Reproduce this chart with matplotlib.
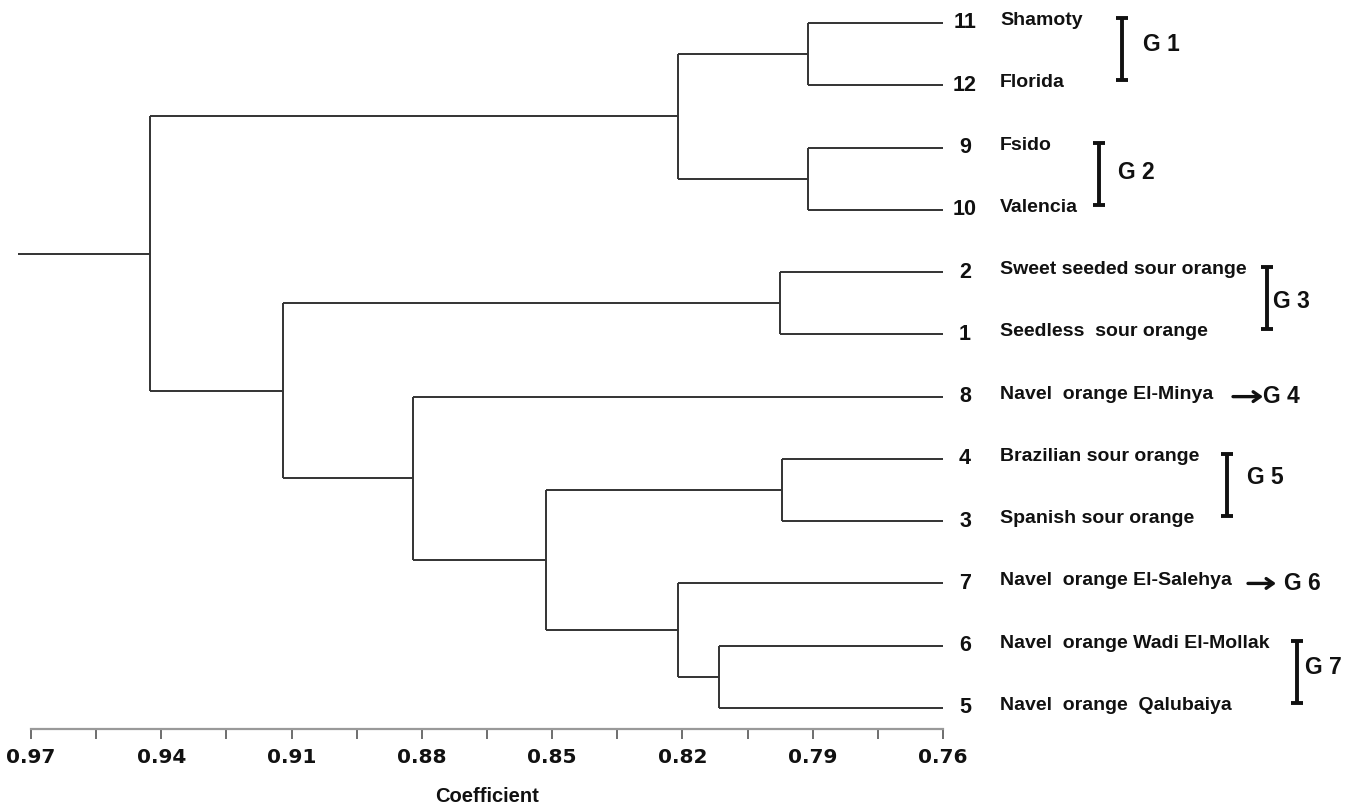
import matplotlib
matplotlib.use("Agg")
import matplotlib.pyplot as plt
from matplotlib import transforms

# ---------------- data ----------------
leaf_ids = [11, 12, 9, 10, 2, 1, 8, 4, 3, 7, 6, 5]
leaf_names = ["Shamoty", "Florida", "Fsido", "Valencia",
              "Sweet seeded sour orange", "Seedless  sour orange",
              "Navel  orange El-Minya", "Brazilian sour orange",
              "Spanish sour orange", "Navel  orange El-Salehya",
              "Navel  orange Wadi El-Mollak", "Navel  orange  Qalubaiya"]

# merges: (name, left child, right child, coefficient)
merge_names = ["A", "B", "C", "D", "E", "F", "G", "H", "I", "J", "K"]
merge_left = ["11", "9", "2", "4", "6", "7", "A", "D", "8", "C", "G"]
merge_right = ["12", "10", "1", "3", "5", "E", "B", "F", "H", "I", "J"]
merge_height = [0.791, 0.791, 0.7975, 0.797, 0.8115, 0.821, 0.821,
                0.8515, 0.882, 0.912, 0.9425]
root_tail = 0.973
leaf_level = 0.76

tick_values = [0.97, 0.955, 0.94, 0.925, 0.91, 0.895, 0.88, 0.865, 0.85,
               0.835, 0.82, 0.805, 0.79, 0.775, 0.76]
tick_labels = ["0.97", "", "0.94", "", "0.91", "", "0.88", "", "0.85", "",
               "0.82", "", "0.79", "", "0.76"]

group_labels = ["G 1", "G 2", "G 3", "G 4", "G 5", "G 6", "G 7"]
group_first = [11, 9, 2, 8, 4, 7, 6]
group_last = [12, 10, 1, 8, 3, 7, 5]

# ---------------- figure ----------------
W, H = 1346, 805
fig = plt.figure(figsize=(W / 100, H / 100), dpi=100)
fig.patch.set_facecolor("white")

ax_left, ax_right, ax_bottom_px = 31, 943, 729
n = len(leaf_ids)
y0_px, step_px = 23, 62.27
ax = fig.add_axes([ax_left / W, (H - ax_bottom_px) / H,
                   (ax_right - ax_left) / W, ax_bottom_px / H])
ax.set_xlim(0.97, 0.76)
ax.set_ylim(n - 1 + (ax_bottom_px - (y0_px + step_px * (n - 1))) / step_px,
            -y0_px / step_px)

pax = fig.add_axes([0, 0, 1, 1], zorder=-1)
pax.set_xlim(0, W)
pax.set_ylim(H, 0)
pax.axis("off")
blend = transforms.blended_transform_factory(pax.transData, ax.transData)

line_kw = dict(color="#333333", lw=1.4, solid_capstyle="butt", clip_on=False)

# node positions
pos_y = {str(l): i for i, l in enumerate(leaf_ids)}
pos_x = {str(l): leaf_level for l in leaf_ids}
for name, a, b, h in zip(merge_names, merge_left, merge_right, merge_height):
    for c in (a, b):
        ax.plot([pos_x[c], h], [pos_y[c], pos_y[c]], **line_kw)
    ax.plot([h, h], [pos_y[a], pos_y[b]], **line_kw)
    pos_x[name] = h
    pos_y[name] = (pos_y[a] + pos_y[b]) / 2
root = merge_names[-1]
ax.plot([root_tail, pos_x[root]], [pos_y[root], pos_y[root]], **line_kw)

# axis styling
for s in ["top", "right", "left"]:
    ax.spines[s].set_visible(False)
ax.spines["bottom"].set_color("#999999")
ax.spines["bottom"].set_linewidth(1.6)
ax.set_yticks([])
ax.set_xticks(tick_values)
ax.set_xticklabels(tick_labels, fontfamily="DejaVu Sans", fontweight="bold",
                   fontsize=14.5, color="#111111")
ax.tick_params(axis="x", direction="out", length=7, width=1.2,
               colors="#555555", labelcolor="#111111", pad=7)
ax.set_xlabel("Coefficient", fontfamily="Liberation Sans", fontweight="bold",
              fontsize=14.5, labelpad=14, color="#111111")
ax.patch.set_alpha(0)

# leaf labels
for i, (lid, nm) in enumerate(zip(leaf_ids, leaf_names)):
    ax.text(965, i, str(lid), transform=blend, ha="center", va="center",
            fontfamily="Liberation Sans", fontweight="bold", fontsize=15.5,
            color="#111111")
    ax.text(1000, i - 0.04, nm, transform=blend, ha="left", va="center",
            fontfamily="Liberation Sans", fontweight="bold", fontsize=14,
            color="#111111")

# group markers (layout positions in pixels)
bracket_x = [1122, 1099, 1267, None, 1227, None, 1297]
text_x = [1143, 1118, 1273, 1263, 1247, 1284, 1305]
arrow_x = [None, None, None, (1233, 1263), None, (1248, 1276), None]
text_dy = [-0.15, -0.1, -0.03, 0.0, -0.2, 0.0, -0.15]
for lab, f, l, bx, tx, ar, dy in zip(group_labels, group_first, group_last,
                                     bracket_x, text_x, arrow_x, text_dy):
    yf, yl = pos_y[str(f)], pos_y[str(l)]
    ym = (yf + yl) / 2
    if bx is not None:
        yt, yb = yf - 0.08, yl - 0.08
        ax.plot([bx, bx], [yt, yb], transform=blend, color="#111111",
                lw=2.8, clip_on=False, solid_capstyle="butt")
        for yy in (yt, yb):
            ax.plot([bx - 6, bx + 6], [yy, yy], transform=blend,
                    color="#111111", lw=2.8, clip_on=False,
                    solid_capstyle="butt")
    if ar is not None:
        ax.annotate("", xy=(ar[1], ym), xytext=(ar[0], ym),
                    xycoords=blend, textcoords=blend,
                    arrowprops=dict(arrowstyle="->,head_length=0.5,head_width=0.35",
                                    color="#111111", lw=2.4,
                                    shrinkA=0, shrinkB=0))
    ax.text(tx, ym + dy, lab, transform=blend, ha="left", va="center",
            fontfamily="Liberation Sans", fontweight="bold", fontsize=16.5,
            color="#111111")

fig.savefig("out.png", dpi=100, facecolor="white")
